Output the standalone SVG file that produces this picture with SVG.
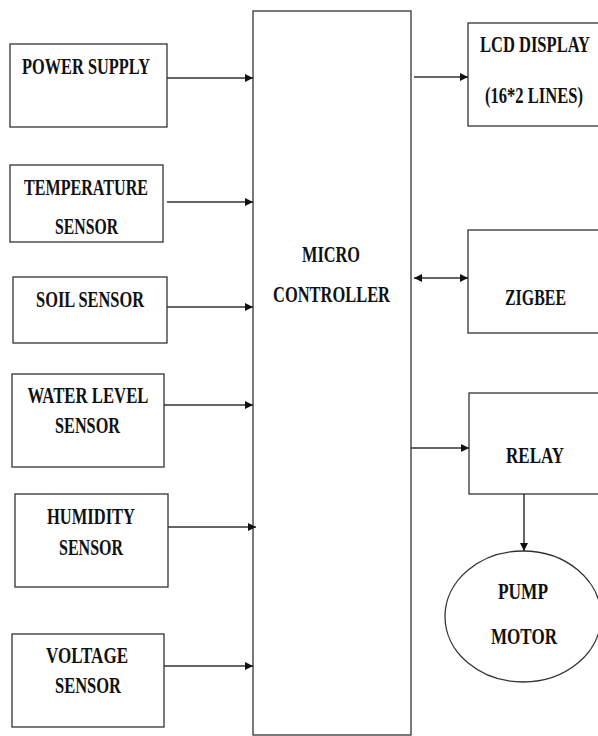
<svg xmlns="http://www.w3.org/2000/svg" width="598" height="736" viewBox="0 0 598 736">
<defs>
<marker id="ah" viewBox="0 0 10 10" refX="10" refY="5" markerWidth="9" markerHeight="8" markerUnits="userSpaceOnUse" orient="auto-start-reverse">
<path d="M0,0 L10,5 L0,10 Z" fill="#111"/>
</marker>
<style>
.box{fill:#fff;stroke:#333;stroke-width:1.3}
.con{stroke:#333;stroke-width:1.5;fill:none}
text{font-family:"Liberation Serif","Times New Roman","DejaVu Serif",serif;font-weight:bold;font-size:16px;fill:#111;text-anchor:middle}
</style>
</defs>
<rect width="598" height="736" fill="#fff"/>
<g id="power-supply"><rect class="box" x="10" y="44" width="157" height="83"/><text transform="translate(86 74) scale(1 1.38)" textLength="128" lengthAdjust="spacingAndGlyphs">POWER SUPPLY</text></g>
<g id="temperature-sensor"><rect class="box" x="10" y="165" width="153" height="77"/><text transform="translate(86 195) scale(1 1.38)" textLength="124" lengthAdjust="spacingAndGlyphs">TEMPERATURE</text><text transform="translate(86.5 234) scale(1 1.38)" textLength="63" lengthAdjust="spacingAndGlyphs">SENSOR</text></g>
<g id="soil-sensor"><rect class="box" x="13" y="277" width="154" height="66"/><text transform="translate(90 307) scale(1 1.38)" textLength="108" lengthAdjust="spacingAndGlyphs">SOIL SENSOR</text></g>
<g id="water-level-sensor"><rect class="box" x="12" y="374" width="152" height="93"/><text transform="translate(88 403) scale(1 1.38)" textLength="121" lengthAdjust="spacingAndGlyphs">WATER LEVEL</text><text transform="translate(87.5 433) scale(1 1.38)" textLength="65" lengthAdjust="spacingAndGlyphs">SENSOR</text></g>
<g id="humidity-sensor"><rect class="box" x="15" y="494" width="153" height="93"/><text transform="translate(91 524) scale(1 1.38)" textLength="88" lengthAdjust="spacingAndGlyphs">HUMIDITY</text><text transform="translate(91 555) scale(1 1.38)" textLength="64" lengthAdjust="spacingAndGlyphs">SENSOR</text></g>
<g id="voltage-sensor"><rect class="box" x="12" y="634" width="152" height="93"/><text transform="translate(87 663) scale(1 1.38)" textLength="82" lengthAdjust="spacingAndGlyphs">VOLTAGE</text><text transform="translate(88 693) scale(1 1.38)" textLength="66" lengthAdjust="spacingAndGlyphs">SENSOR</text></g>
<g id="micro-controller"><rect class="box" x="253" y="11" width="158" height="724"/><text transform="translate(331 262) scale(1 1.38)" textLength="58" lengthAdjust="spacingAndGlyphs">MICRO</text><text transform="translate(331.5 302) scale(1 1.38)" textLength="117" lengthAdjust="spacingAndGlyphs">CONTROLLER</text></g>
<g id="lcd-display"><rect class="box" x="468" y="23" width="135" height="103"/><text transform="translate(535 52) scale(1 1.38)" textLength="110" lengthAdjust="spacingAndGlyphs">LCD DISPLAY</text><text transform="translate(534 103) scale(1 1.38)" textLength="98" lengthAdjust="spacingAndGlyphs">(16*2 LINES)</text></g>
<g id="zigbee"><rect class="box" x="468" y="230" width="135" height="103"/><text transform="translate(535.5 305) scale(1 1.38)" textLength="61" lengthAdjust="spacingAndGlyphs">ZIGBEE</text></g>
<g id="relay"><rect class="box" x="469" y="393" width="134" height="101"/><text transform="translate(535 463) scale(1 1.38)" textLength="58" lengthAdjust="spacingAndGlyphs">RELAY</text></g>
<g id="pump-motor"><ellipse class="box" cx="523" cy="616.5" rx="78" ry="65.5"/><text transform="translate(523 599) scale(1 1.38)" textLength="50" lengthAdjust="spacingAndGlyphs">PUMP</text><text transform="translate(524 644) scale(1 1.38)" textLength="66" lengthAdjust="spacingAndGlyphs">MOTOR</text></g>
<g id="connectors">
<line class="con" x1="167" y1="78" x2="253" y2="78" marker-end="url(#ah)"/>
<line class="con" x1="167" y1="202" x2="253" y2="202" marker-end="url(#ah)"/>
<line class="con" x1="167" y1="307" x2="253" y2="307" marker-end="url(#ah)"/>
<line class="con" x1="164" y1="405" x2="253" y2="405" marker-end="url(#ah)"/>
<line class="con" x1="168" y1="527" x2="256" y2="527" marker-end="url(#ah)"/>
<line class="con" x1="164" y1="666" x2="253" y2="666" marker-end="url(#ah)"/>
<line class="con" x1="414" y1="77" x2="468" y2="77" marker-end="url(#ah)"/>
<line class="con" x1="414" y1="278" x2="468" y2="278" marker-start="url(#ah)" marker-end="url(#ah)"/>
<line class="con" x1="411" y1="448" x2="469" y2="448" marker-end="url(#ah)"/>
<line class="con" x1="524" y1="494" x2="524" y2="551" marker-end="url(#ah)"/>
</g>
</svg>
